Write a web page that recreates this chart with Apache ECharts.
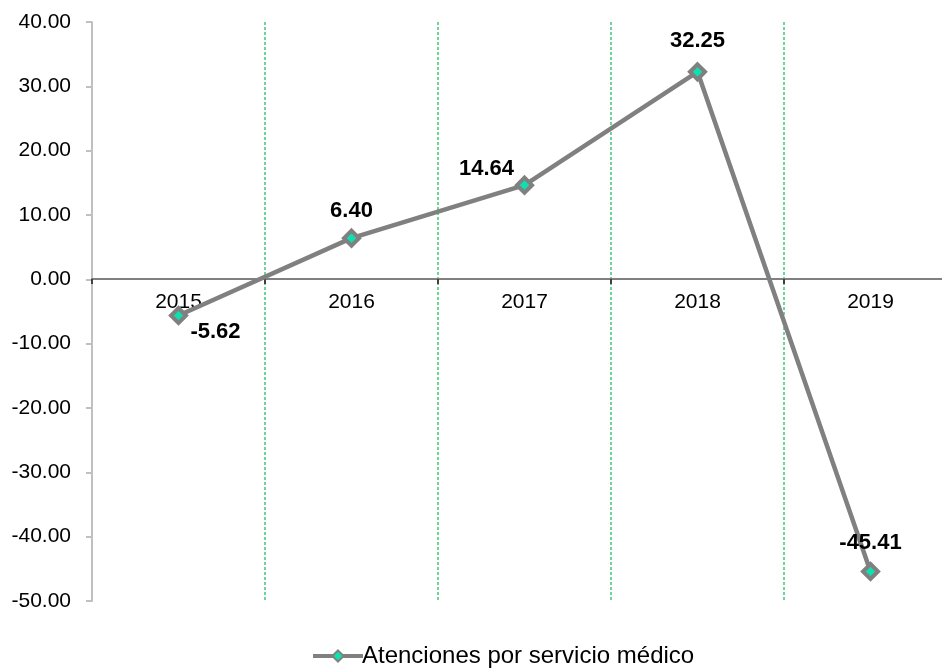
<!DOCTYPE html>
<html>
<head>
<meta charset="utf-8">
<script src="https://cdn.jsdelivr.net/npm/echarts@6/dist/echarts.min.js"></script>
<style>
html,body{margin:0;padding:0;background:#fff;}
#chart{width:942px;height:669px;}
</style>
</head>
<body>
<div id="chart"></div>
<script>
var years = ['2015', '2016', '2017', '2018', '2019'];
var values = [-5.62, 6.40, 14.64, 32.25, -45.41];
var seriesName = 'Atenciones por servicio médico';
// label placement per point
var labelPos = ['bottom', 'top', 'top', 'top', 'top'];
var labelOff = [[37, -14], [0, 3], [-38, 14], [0, 0], [0, 2]];

var FONT = 'Liberation Sans, Arial, sans-serif';
var chart = echarts.init(document.getElementById('chart'));
var pts = [];
for (var i = 0; i < values.length; i++) {
	pts.push({
		value: values[i],
		label: { position: labelPos[i], offset: labelOff[i] }
	});
}
var option = {
	animation: false,
	textStyle: { fontFamily: FONT },
	grid: { left: 92, top: 22, height: 579, width: 865, outerBoundsMode: 'none', containLabel: false },
	legend: {
		top: 639,
		left: 306,
		itemWidth: 50,
		itemHeight: 14,
		itemGap: 0,
		lineStyle: { width: 4, color: '#808080' },
		textStyle: { fontSize: 24, color: '#000', fontFamily: FONT, padding: [0, 0, 0, -6] },
		data: [seriesName]
	},
	xAxis: {
		type: 'category',
		data: years,
		boundaryGap: true,
		position: 'bottom',
		offset: -322,	// zero line sits at y=279
		axisLine: { onZero: false, lineStyle: { color: '#808080', width: 2 } },
		axisTick: { show: true, length: 5, lineStyle: { color: '#404040', width: 2 } },
		axisLabel: { fontSize: 21, color: '#000', margin: 13 },
		splitLine: {
			show: true,
			lineStyle: { color: '#6fd49a', type: [3, 2], width: 2 }
		}
	},
	yAxis: {
		type: 'value',
		min: -50,
		max: 40,
		interval: 10,
		axisLine: { show: true, lineStyle: { color: '#c0c0c0', width: 2 } },
		axisTick: { show: true, length: 6, lineStyle: { color: '#c0c0c0', width: 2 } },
		axisLabel: {
			fontSize: 21, color: '#000', margin: 21,
			formatter: function (v) { return v.toFixed(2); }
		},
		splitLine: { show: false }
	},
	series: [{
		name: seriesName,
		type: 'line',
		data: pts,
		symbol: 'diamond',
		symbolSize: 15,
		lineStyle: { color: '#808080', width: 4.5 },
		itemStyle: { color: '#10e0b0', borderColor: '#808080', borderWidth: 4 },
		label: {
			show: true,
			fontSize: 22,
			fontWeight: 'bold',
			color: '#000',
			distance: 10,
			formatter: function (p) { return p.value.toFixed(2); }
		}
	}]
};
chart.setOption(option);
</script>
</body>
</html>
